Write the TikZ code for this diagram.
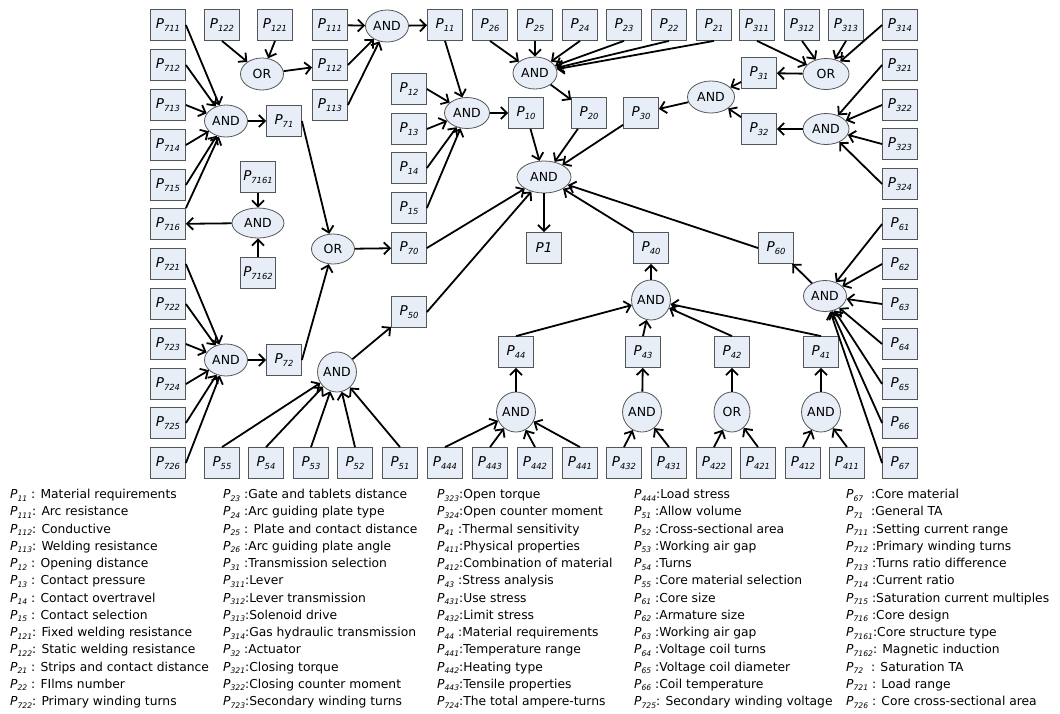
\documentclass[tikz,border=0pt]{standalone}
\usepackage{fontspec}
\setmainfont{DejaVu Sans}
\usetikzlibrary{
    arrows.meta,
    shapes.geometric
}
\definecolor{boxfill}{RGB}{232,238,248}
\definecolor{boxline}{RGB}{85,85,85}
\newcommand{\pv}[1]{\textit{P}\raisebox{-0.4ex}{\scalebox{0.62}{\textit{#1}}}}
\tikzset{
  box/.style={
    rectangle, draw=boxline, fill=boxfill, line width=0.8pt,
    minimum width=35pt, minimum height=31pt, inner sep=0pt,
    font=\fontsize{13.5}{14}\selectfont
  },
  gate/.style={
    ellipse, draw=boxline, fill=boxfill, line width=0.8pt,
    minimum width=43pt, minimum height=32pt, inner sep=0pt,
    font=\fontsize{12.5}{13}\selectfont
  },
  rgate/.style={gate, minimum width=36pt, minimum height=40pt},
  arr/.style={
    black, line width=1.8pt,
    -{Straight Barb[length=6pt,width=12pt]}
  },
  legend/.style={
    anchor=base west, inner sep=0pt,
    font=\fontsize{12.3}{14}\selectfont
  }
}

\begin{document}
\begin{tikzpicture}[x=1pt,y=-1pt]
    \useasboundingbox (0,0) rectangle (1060,713);

    % 左の列
    \node[box] (P711) at (168,25) {\pv{711}};
    \node[box] (P712) at (168,65) {\pv{712}};
    \node[box] (P713) at (168,105) {\pv{713}};
    \node[box] (P714) at (168,145) {\pv{714}};
    \node[box] (P715) at (168,185) {\pv{715}};
    \node[box] (P716) at (168,224) {\pv{716}};
    \node[box] (P721) at (168,264) {\pv{721}};
    \node[box] (P722) at (168,304) {\pv{722}};
    \node[box] (P723) at (168,344) {\pv{723}};
    \node[box] (P724) at (168,384) {\pv{724}};
    \node[box] (P725) at (168,423) {\pv{725}};
    \node[box] (P726) at (168,463) {\pv{726}};

    % 上の行
    \node[box] (P122) at (222,25) {\pv{122}};
    \node[box] (P121) at (275,25) {\pv{121}};
    \node[box] (P111) at (330,25) {\pv{111}};
    \node[box] (P112) at (330,65) {\pv{112}};
    \node[box] (P113) at (330,105) {\pv{113}};
    \node[box] (P11) at (445,25) {\pv{11}};
    \node[box] (P26) at (490,25) {\pv{26}};
    \node[box] (P25) at (535,25) {\pv{25}};
    \node[box] (P24) at (580,25) {\pv{24}};
    \node[box] (P23) at (624,25) {\pv{23}};
    \node[box] (P22) at (669,25) {\pv{22}};
    \node[box] (P21) at (714,25) {\pv{21}};
    \node[box] (P311) at (757,25) {\pv{311}};
    \node[box] (P312) at (802,25) {\pv{312}};
    \node[box] (P313) at (846,25) {\pv{313}};
    \node[box] (P314) at (900,25) {\pv{314}};

    % 右の列
    \node[box] (P321) at (900,65) {\pv{321}};
    \node[box] (P322) at (900,105) {\pv{322}};
    \node[box] (P323) at (900,144) {\pv{323}};
    \node[box] (P324) at (900,184) {\pv{324}};
    \node[box] (P61) at (900,224) {\pv{61}};
    \node[box] (P62) at (900,264) {\pv{62}};
    \node[box] (P63) at (900,304) {\pv{63}};
    \node[box] (P64) at (900,344) {\pv{64}};
    \node[box] (P65) at (900,384) {\pv{65}};
    \node[box] (P66) at (900,423) {\pv{66}};
    \node[box] (P67) at (900,463) {\pv{67}};

    % 中間
    \node[box] (P12) at (409,89) {\pv{12}};
    \node[box] (P13) at (409,129) {\pv{13}};
    \node[box] (P14) at (409,168) {\pv{14}};
    \node[box] (P15) at (409,208) {\pv{15}};
    \node[box] (P10) at (526,113) {\pv{10}};
    \node[box] (P20) at (589,113) {\pv{20}};
    \node[box] (P30) at (641,113) {\pv{30}};
    \node[box] (P31) at (759,73) {\pv{31}};
    \node[box] (P32) at (759,129) {\pv{32}};
    \node[box] (P71) at (284,121) {\pv{71}};
    \node[box] (P7161) at (258,177) {\pv{7161}};
    \node[box] (P7162) at (258,273) {\pv{7162}};
    \node[box] (P70) at (409,248) {\pv{70}};
    \node[box] (P72) at (284,360) {\pv{72}};
    \node[box] (P50) at (409,312) {\pv{50}};
    \node[box] (P1) at (544,248) {\textit{P1}};
    \node[box] (P40) at (651,248) {\pv{40}};
    \node[box] (P60) at (776,248) {\pv{60}};
    \node[box] (P44) at (516,352) {\pv{44}};
    \node[box] (P43) at (643,352) {\pv{43}};
    \node[box] (P42) at (732,352) {\pv{42}};
    \node[box] (P41) at (821,352) {\pv{41}};

    % 下の行
    \node[box] (P55) at (222,463) {\pv{55}};
    \node[box] (P54) at (266,463) {\pv{54}};
    \node[box] (P53) at (311,463) {\pv{53}};
    \node[box] (P52) at (355,463) {\pv{52}};
    \node[box] (P51) at (400,463) {\pv{51}};
    \node[box] (P444) at (445,463) {\pv{444}};
    \node[box] (P443) at (490,463) {\pv{443}};
    \node[box] (P442) at (535,463) {\pv{442}};
    \node[box] (P441) at (580,463) {\pv{441}};
    \node[box] (P432) at (624,463) {\pv{432}};
    \node[box] (P431) at (669,463) {\pv{431}};
    \node[box] (P422) at (714,463) {\pv{422}};
    \node[box] (P421) at (758,463) {\pv{421}};
    \node[box] (P412) at (803,463) {\pv{412}};
    \node[box] (P411) at (847,463) {\pv{411}};

    % ゲート
    \node[gate] (g11) at (387,26) {AND};
    \node[gate] (g12) at (262,74) {OR};
    \node[gate] (g71) at (226,121) {AND};
    \node[gate,minimum width=52pt,minimum height=30pt] (g716) at (258,223) {AND};
    \node[gate,minimum height=30pt] (g70) at (333,249) {OR};
    \node[gate] (g72) at (226,360) {AND};
    \node[rgate] (g50) at (337,372) {AND};
    \node[gate,minimum width=45pt,minimum height=31pt] (g10) at (467,113) {AND};
    \node[gate,minimum width=44pt] (g20) at (535,73) {AND};
    \node[gate,minimum width=46pt,minimum height=31pt] (g31) at (826,74) {OR};
    \node[gate,minimum width=46pt,minimum height=31pt] (g32) at (826,129) {AND};
    \node[gate,minimum width=47pt] (g30) at (711,97) {AND};
    \node[gate,minimum width=54pt] (g1) at (544,177) {AND};
    \node[gate,minimum height=31pt] (g60) at (825,296) {AND};
    \node[rgate] (g40) at (651,300) {AND};
    \node[rgate] (g44) at (516,412) {AND};
    \node[rgate] (g43) at (642,412) {AND};
    \node[rgate] (g42) at (732,412) {OR};
    \node[rgate] (g41) at (821,412) {AND};

    % 辺
    \foreach \s in {P711,P712,P713,P714,P715}
        \draw[arr] (\s.east) -- (g71);
    \draw[arr] (P716.north east) -- (g71);
    \draw[arr] (g71) -- (P71);
    \draw[arr] (P7161) -- (g716);
    \draw[arr] (P7162) -- (g716);
    \draw[arr] (g716) -- (P716);
    \foreach \s in {P721,P722,P723,P724,P725,P726}
        \draw[arr] (\s.east) -- (g72);
    \draw[arr] (g72) -- (P72);
    \draw[arr] (P71.east) -- (g70);
    \draw[arr] (P72.east) -- (g70);
    \draw[arr] (g70) -- (P70);

    \draw[arr] (P122.south) -- (g12);
    \draw[arr] (P121.south) -- (g12);
    \draw[arr] (g12) -- (P112);
    \draw[arr] (P111) -- (g11);
    \draw[arr] (P112.east) -- (g11);
    \draw[arr] (P113.east) -- (g11);
    \draw[arr] (g11) -- (P11);

    \draw[arr] (P11.south) -- (g10);
    \foreach \s in {P12,P13,P14,P15}
        \draw[arr] (\s.east) -- (g10);
    \draw[arr] (g10) -- (P10);

    \foreach \s in {P26,P25,P24,P23,P22,P21}
        \draw[arr] (\s.south) -- (g20);
    \draw[arr] (g20) -- (P20);

    \foreach \s in {P311,P312,P313}
        \draw[arr] (\s.south) -- (g31);
    \draw[arr] (P314.west) -- (g31);
    \draw[arr] (g31) -- (P31);
    \foreach \s in {P321,P322,P323,P324}
        \draw[arr] (\s.west) -- (g32);
    \draw[arr] (g32) -- (P32);
    \draw[arr] (P31) -- (g30);
    \draw[arr] (P32) -- (g30);
    \draw[arr] (g30) -- (P30);

    \draw[arr] (P10) -- (g1);
    \draw[arr] (P20) -- (g1);
    \draw[arr] (P30) -- (g1);
    \draw[arr] (P70.east) -- (g1);
    \draw[arr] (P50.east) -- (g1);
    \draw[arr] (P40.north west) -- (g1);
    \draw[arr] (P60.west) -- (g1);
    \draw[arr] (g1) -- (P1);

    \foreach \s in {P55,P54,P53,P52,P51}
        \draw[arr] (\s.north) -- (g50);
    \draw[arr] (g50) -- (P50);

    \foreach \s in {P444,P443,P442,P441}
        \draw[arr] (\s.north) -- (g44);
    \draw[arr] (g44) -- (P44);
    \foreach \s in {P432,P431}
        \draw[arr] (\s.north) -- (g43);
    \draw[arr] (g43) -- (P43);
    \foreach \s in {P422,P421}
        \draw[arr] (\s.north) -- (g42);
    \draw[arr] (g42) -- (P42);
    \foreach \s in {P412,P411}
        \draw[arr] (\s.north) -- (g41);
    \draw[arr] (g41) -- (P41);
    \foreach \s in {P44,P43,P42,P41}
        \draw[arr] (\s.north) -- (g40);
    \draw[arr] (g40) -- (P40);

    \foreach \s in {P61,P62,P63,P64,P65,P66,P67}
        \draw[arr] (\s.west) -- (g60);
    \draw[arr] (g60) -- (P60);

    % 凡例
    \foreach \t [count=\i] in {
        {\pv{11} : Material requirements},
        {\pv{111}: Arc resistance},
        {\pv{112}: Conductive},
        {\pv{113}: Welding resistance},
        {\pv{12} : Opening distance},
        {\pv{13} : Contact pressure},
        {\pv{14} : Contact overtravel},
        {\pv{15} : Contact selection},
        {\pv{121}: Fixed welding resistance},
        {\pv{122}: Static welding resistance},
        {\pv{21} : Strips and contact distance},
        {\pv{22} : FIlms number},
        {\pv{722}: Primary winding turns}}
        \node[legend] (la\i) at (10,{481.25+17.25*\i}) {\t};
    \foreach \t [count=\i] in {
        {\pv{23} :Gate and tablets distance},
        {\pv{24} :Arc guiding plate type},
        {\pv{25} : Plate and contact distance},
        {\pv{26} :Arc guiding plate angle},
        {\pv{31} :Transmission selection},
        {\pv{311}:Lever},
        {\pv{312}:Lever transmission},
        {\pv{313}:Solenoid drive},
        {\pv{314}:Gas hydraulic transmission},
        {\pv{32} :Actuator},
        {\pv{321}:Closing torque},
        {\pv{322}:Closing counter moment},
        {\pv{723}:Secondary winding turns}}
        \node[legend] (lb\i) at (223,{481.25+17.25*\i}) {\t};
    \foreach \t [count=\i] in {
        {\pv{323}:Open torque},
        {\pv{324}:Open counter moment},
        {\pv{41} :Thermal sensitivity},
        {\pv{411}:Physical properties},
        {\pv{412}:Combination of material},
        {\pv{43} :Stress analysis},
        {\pv{431}:Use stress},
        {\pv{432}:Limit stress},
        {\pv{44} :Material requirements},
        {\pv{441}:Temperature range},
        {\pv{442}:Heating type},
        {\pv{443}:Tensile properties},
        {\pv{724}:The total ampere-turns}}
        \node[legend] (lc\i) at (437,{481.25+17.25*\i}) {\t};
    \foreach \t [count=\i] in {
        {\pv{444}:Load stress},
        {\pv{51} :Allow volume},
        {\pv{52} :Cross-sectional area},
        {\pv{53} :Working air gap},
        {\pv{54} :Turns},
        {\pv{55} :Core material selection},
        {\pv{61} :Core size},
        {\pv{62} :Armature size},
        {\pv{63} :Working air gap},
        {\pv{64} :Voltage coil turns},
        {\pv{65} :Voltage coil diameter},
        {\pv{66} :Coil temperature},
        {\pv{725}: Secondary winding voltage}}
        \node[legend] (ld\i) at (634,{481.25+17.25*\i}) {\t};
    \foreach \t [count=\i] in {
        {\pv{67} \ :Core material},
        {\pv{71} \ :General TA},
        {\pv{711} :Setting current range},
        {\pv{712} :Primary winding turns},
        {\pv{713} :Turns ratio difference},
        {\pv{714} :Current ratio},
        {\pv{715} :Saturation current multiples},
        {\pv{716} :Core design},
        {\pv{7161}:Core structure type},
        {\pv{7162}: Magnetic induction},
        {\pv{72} \ : Saturation TA},
        {\pv{721} : Load range},
        {\pv{726} : Core cross-sectional area}}
        \node[legend] (le\i) at (846,{481.25+17.25*\i}) {\t};
\end{tikzpicture}
\end{document}
